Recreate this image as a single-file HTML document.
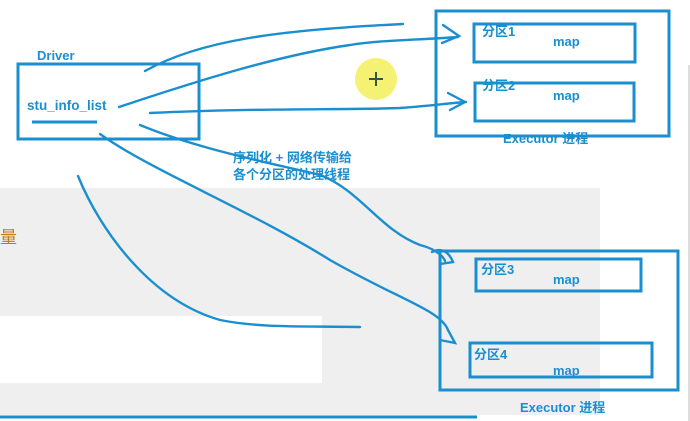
<!DOCTYPE html>
<html><head><meta charset="utf-8"><style>
html,body{margin:0;padding:0;background:#fff;}
svg{display:block;}
text{font-family:"Liberation Sans","Noto Sans CJK SC",sans-serif;font-weight:bold;fill:#1a8fd0;}
</style></head><body>
<svg width="690" height="421" viewBox="0 0 690 421" xmlns="http://www.w3.org/2000/svg">
<rect x="0" y="0" width="690" height="421" fill="#fff"/>
<rect x="0" y="188" width="600" height="227" fill="#efefef"/>
<rect x="0" y="316" width="322" height="67" fill="#fff"/>
<rect x="247" y="316" width="50" height="14" fill="#fff"/>
<line x1="689" y1="65" x2="689" y2="421" stroke="#ddd" stroke-width="2"/>
<text x="0" y="243" style="fill:#c87a1a;font-size:17px;font-weight:normal">量</text>
<line x1="0" y1="417" x2="477" y2="417" stroke="#1a8fd0" stroke-width="3"/>
<circle cx="376" cy="79" r="21" fill="#f3ee5a" opacity="0.85"/>
<g stroke="#2d5a3a" stroke-width="2"><line x1="369" y1="79" x2="383" y2="79"/><line x1="376" y1="72" x2="376" y2="86"/></g>
<g fill="none" stroke="#1a8fd0" stroke-width="3">
<rect x="18" y="64" width="181" height="75"/>
<rect x="436" y="11" width="233" height="125"/>
<rect x="474" y="24" width="161" height="38"/>
<rect x="475" y="83" width="159" height="38"/>
<rect x="440" y="251" width="238" height="139"/>
<rect x="476" y="259" width="165" height="32"/>
<rect x="470" y="343" width="182" height="34"/>
<line x1="32" y1="122" x2="97" y2="122"/>
</g>
<g fill="none" stroke="#1a8fd0" stroke-width="2.4" stroke-linecap="round">
<path d="M145 71 C200 40 280 30 403 24"/>
<path d="M119 107 C200 80 280 55 350 45 C380 40 420 40 458 37"/>
<path d="M443 25 L459 36 L442 43"/>
<path d="M150 113 C250 108 350 110 400 108 C430 106 450 103 466 102"/>
<path d="M448 93 L465 102 L450 110"/>
<path d="M140 125 C200 150 280 165 320 175 C360 190 380 230 420 245 C440 250 445 260 445 261"/>
<path d="M432 252 C440 248 448 250 453 262 L440 264"/>
<path d="M100 134 C150 170 250 210 330 260 C400 300 440 310 448 330"/>
<path d="M448 330 L455 343 L440 340"/>
<path d="M78 176 C100 230 150 300 220 320 C260 328 300 326 360 327"/>
</g>
<text x="37" y="60" style="font-size:13px">Driver</text>
<text x="27" y="110" style="font-size:13.5px">stu_info_list</text>
<text x="233" y="162" style="font-size:13px">序列化 + 网络传输给</text>
<text x="233" y="179" style="font-size:13px">各个分区的处理线程</text>
<text x="482" y="36" style="font-size:13px">分区1</text>
<text x="553" y="46" style="font-size:13px">map</text>
<text x="482" y="90" style="font-size:13px">分区2</text>
<text x="553" y="100" style="font-size:13px">map</text>
<text x="503" y="143" style="font-size:13px">Executor 进程</text>
<text x="481" y="274" style="font-size:13px">分区3</text>
<text x="553" y="284" style="font-size:13px">map</text>
<text x="474" y="359" style="font-size:13px">分区4</text>
<text x="553" y="375" style="font-size:13px">map</text>
<text x="520" y="412" style="font-size:13px">Executor 进程</text>
</svg>
</body></html>
